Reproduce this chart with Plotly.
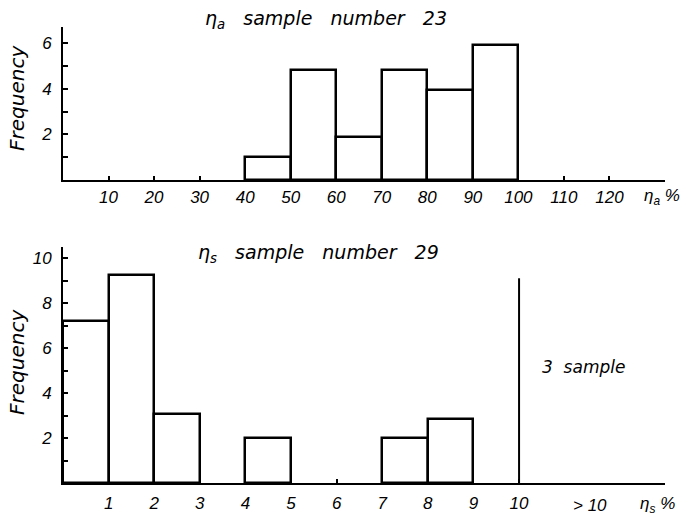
import plotly.graph_objects as go

# ---- data ----
top_bin_left = [40, 50, 60, 70, 80, 90]
top_bin_width = 10
top_freq = [1.0, 4.85, 1.9, 4.85, 3.95, 5.95]
top_xtick_vals = [10, 20, 30, 40, 50, 60, 70, 80, 90, 100, 110, 120]
top_xtick_text = ["10", "20", "30", "40", "50", "60", "70", "80", "90", "100", "110", "120"]
top_ytick_vals = [1, 2, 3, 4, 5, 6]
top_ytick_text = ["", "2", "", "4", "", "6"]

bot_bin_left = [0, 1, 2, 4, 7, 8]
bot_bin_width = 1
bot_freq = [7.2, 9.25, 3.05, 2.0, 2.0, 2.85]
bot_over_x = [10, 10]
bot_over_y = [0, 9.1]
bot_xtick_vals = [1, 2, 3, 4, 5, 6, 7, 8, 9, 10]
bot_xtick_text = ["1", "2", "3", "4", "5", "6", "7", "8", "9", "10"]
bot_ytick_vals = [1, 2, 3, 4, 5, 6, 7, 8, 9, 10]
bot_ytick_text = ["", "2", "", "4", "", "6", "", "8", "", "10"]

FONT = "Liberation Sans"
AFONT = "DejaVu Sans"
W, H = 698, 518

fig = go.Figure()

fig.add_trace(go.Bar(
    x=[l + top_bin_width / 2 for l in top_bin_left], y=top_freq, width=top_bin_width,
    marker=dict(color="white", line=dict(color="black", width=2.5)),
    xaxis="x", yaxis="y", showlegend=False, hoverinfo="skip"))

fig.add_trace(go.Bar(
    x=[l + bot_bin_width / 2 for l in bot_bin_left], y=bot_freq, width=bot_bin_width,
    marker=dict(color="white", line=dict(color="black", width=2.5)),
    xaxis="x2", yaxis="y2", showlegend=False, hoverinfo="skip"))

fig.add_trace(go.Scatter(
    x=bot_over_x, y=bot_over_y, mode="lines", line=dict(color="black", width=2),
    xaxis="x2", yaxis="y2", showlegend=False, hoverinfo="skip"))

tickfont = dict(family=FONT, size=17, color="black", style="italic")
xdom = [63 / W, 665 / W]

common_x = dict(showline=True, linecolor="black", linewidth=2, showgrid=False,
                zeroline=False, ticks="inside", ticklen=4, tickwidth=1.5,
                tickcolor="black", tickfont=tickfont, automargin=False)
common_y = dict(showline=True, linecolor="black", linewidth=2, showgrid=False,
                zeroline=False, ticks="inside", ticklen=5, tickwidth=1.5,
                tickcolor="black", tickfont=tickfont, ticklabelstandoff=6,
                automargin=False)

fig.update_layout(
    width=W, height=H, margin=dict(l=0, r=0, t=0, b=0),
    paper_bgcolor="white", plot_bgcolor="white", bargap=0,
    xaxis=dict(domain=xdom, range=[0, 132.2], anchor="y", ticklabelstandoff=1,
               tickvals=top_xtick_vals, ticktext=top_xtick_text, **common_x),
    yaxis=dict(domain=[1 - 180 / H, 1 - 27 / H], range=[0, 6.72], anchor="x",
               tickvals=top_ytick_vals, ticktext=top_ytick_text, **common_y),
    xaxis2=dict(domain=xdom, range=[0, 13.2], anchor="y2", ticklabelstandoff=4,
                tickvals=bot_xtick_vals, ticktext=bot_xtick_text, **common_x),
    yaxis2=dict(domain=[1 - 483 / H, 1 - 247 / H], range=[0, 10.49], anchor="x2",
                tickvals=bot_ytick_vals, ticktext=bot_ytick_text, **common_y),
)

def ann(text, x, y, size=18, xanchor="left", angle=0, family=AFONT):
    fig.add_annotation(text=text, x=x / W, y=1 - y / H, xref="paper", yref="paper",
                       xanchor=xanchor, yanchor="middle", showarrow=False, textangle=angle,
                       font=dict(family=family, size=size, color="black", style="italic"))

ann("η<sub>a</sub>   sample   number   23", 203, 19, size=19)
ann("η<sub>s</sub>   sample   number   29", 196, 253, size=19)
ann("η<sub>a</sub> %", 642, 197, size=17, family=FONT)
ann("η<sub>s</sub> %", 638, 505, size=17, family=FONT)
ann("> 10", 590, 505, size=17, xanchor="center", family=FONT)
ann("3  sample", 540, 367, size=17)
ann("Frequency", 17, 98, size=20, xanchor="center", angle=-90)
ann("Frequency", 17, 362, size=20, xanchor="center", angle=-90)

fig.write_html("out.html", config={"displayModeBar": False},
               post_script="document.body.style.margin='0';")
